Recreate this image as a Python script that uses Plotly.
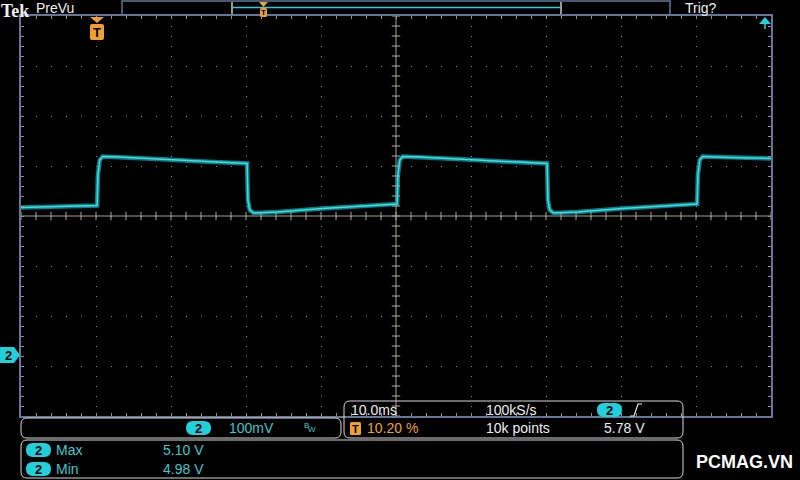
import plotly.graph_objects as go
import numpy as np

# channel 2 trace (time in ms from trigger, volts)
time_ms = [-10.2, -5.0, -0.05, 0.05, 0.3, 0.7, 3.0, 8.0, 14.0, 19.95,
           20.05, 20.3, 20.8, 24.0, 30.0, 36.0, 39.95,
           40.05, 40.3, 40.7, 43.0, 48.0, 54.0, 59.95,
           60.05, 60.3, 60.8, 64.0, 70.0, 76.0, 79.95,
           80.05, 80.3, 80.7, 84.0, 89.8]
volts = [4.995, 4.997, 4.999, 5.060, 5.090, 5.097, 5.096, 5.092, 5.087, 5.083,
         5.010, 4.990, 4.984, 4.986, 4.993, 4.998, 5.002,
         5.060, 5.090, 5.097, 5.096, 5.092, 5.087, 5.083,
         5.010, 4.990, 4.984, 4.986, 4.993, 4.998, 5.002,
         5.060, 5.090, 5.097, 5.095, 5.093]

# readouts
scale_txt = "100mV"
timebase_txt = "10.0ms"
rate_txt = "100kS/s"
trig_pos_txt = "10.20 %"
points_txt = "10k points"
trig_level_txt = "5.78 V"
meas_names = ["Max", "Min"]
meas_values = ["5.10 V", "4.98 V"]

# screen geometry: 10 x 8 divisions, 10 ms/div, 100 mV/div, trigger at 10.20 %
X0, X1 = -10.2, 89.8
Y0, Y1 = 4.578, 5.378
XC, YC = 39.8, 4.978

CYAN = "#22d0dc"
CYAN_TXT = "#3cc8d0"
ORANGE = "#f0a030"
WHITE = "#eeeeee"
FRAME = "#62779a"


def px(x):
    return (x - 21) / 750


def py(y):
    return (416 - y) / 400


def rrect(x0, y0, x1, y1, r):
    # rounded rect path in paper units, input in screen pixels
    pts = [
        f"M {px(x0 + r)},{py(y0)}",
        f"L {px(x1 - r)},{py(y0)}",
        f"Q {px(x1)},{py(y0)} {px(x1)},{py(y0 + r)}",
        f"L {px(x1)},{py(y1 - r)}",
        f"Q {px(x1)},{py(y1)} {px(x1 - r)},{py(y1)}",
        f"L {px(x0 + r)},{py(y1)}",
        f"Q {px(x0)},{py(y1)} {px(x0)},{py(y1 - r)}",
        f"L {px(x0)},{py(y0 + r)}",
        f"Q {px(x0)},{py(y0)} {px(x0 + r)},{py(y0)}",
        "Z",
    ]
    return " ".join(pts)


def poly(points):
    s = " ".join(f"L {px(x)},{py(y)}" for x, y in points[1:])
    return f"M {px(points[0][0])},{py(points[0][1])} {s} Z"


fig = go.Figure()

# waveform: dim band + bright core to mimic the noisy trace
fig.add_trace(go.Scatter(x=time_ms, y=volts, mode="lines", hoverinfo="skip",
                         line=dict(color="rgba(14,140,150,0.9)", width=4.5)))
fig.add_trace(go.Scatter(x=time_ms, y=volts, mode="lines", hoverinfo="skip",
                         line=dict(color="#3ae0e4", width=1.5)))

# tick marks on the centre crosshair
tx = np.arange(X0, X1 + 0.01, 2)
ty = np.arange(Y0, Y1 + 0.001, 0.02)
fig.add_trace(go.Scatter(x=tx, y=[YC] * len(tx), mode="markers", hoverinfo="skip",
                         marker=dict(symbol="line-ns", size=6, line=dict(color="#a8a8a0", width=1))))
fig.add_trace(go.Scatter(x=[XC] * len(ty), y=ty, mode="markers", hoverinfo="skip",
                         marker=dict(symbol="line-ew", size=6, line=dict(color="#a8a8a0", width=1))))

shapes = []
# centre crosshair
shapes.append(dict(type="line", xref="x", yref="y", x0=X0, x1=X1, y0=YC, y1=YC,
                   line=dict(color="#a89f8c", width=1), layer="below"))
shapes.append(dict(type="line", xref="x", yref="y", x0=XC, x1=XC, y0=Y0, y1=Y1,
                   line=dict(color="#a89f8c", width=1), layer="below"))

# top bar: record view
shapes.append(dict(type="rect", xref="paper", yref="paper", x0=px(122), x1=px(670),
                   y0=py(15), y1=py(1), line=dict(color=FRAME, width=1.5)))
shapes.append(dict(type="line", xref="paper", yref="paper", x0=px(232), x1=px(561),
                   y0=py(7.5), y1=py(7.5), line=dict(color=CYAN, width=1.5)))
for bx in (232, 561):
    shapes.append(dict(type="line", xref="paper", yref="paper", x0=px(bx), x1=px(bx),
                       y0=py(2), y1=py(14), line=dict(color="#9a9a8a", width=2)))
shapes.append(dict(type="path", xref="paper", yref="paper",
                   path=poly([(259, 2), (268, 2), (263.5, 7)]), fillcolor=ORANGE, line_width=0))
shapes.append(dict(type="path", xref="paper", yref="paper",
                   path=rrect(260, 8, 267, 17, 1.5), fillcolor=ORANGE, line_width=0))

# trigger position marker
shapes.append(dict(type="path", xref="paper", yref="paper",
                   path=poly([(90, 17), (104, 17), (97, 23)]), fillcolor=ORANGE, line_width=0))
shapes.append(dict(type="path", xref="paper", yref="paper",
                   path=rrect(90, 24, 104, 40, 2), fillcolor=ORANGE, line_width=0))

# trigger level arrow (off screen above)
shapes.append(dict(type="path", xref="paper", yref="paper",
                   path=poly([(759, 24), (771, 24), (765, 17)]), fillcolor=CYAN, line_width=0))
shapes.append(dict(type="line", xref="paper", yref="paper", x0=px(765), x1=px(765),
                   y0=py(24), y1=py(29), line=dict(color=CYAN, width=1.5)))

# channel 2 ground marker
shapes.append(dict(type="path", xref="paper", yref="paper",
                   path=poly([(0, 347), (14, 347), (20, 355), (14, 363), (0, 363)]),
                   fillcolor=CYAN, line_width=0))

# readout panels
for (a, b, c, d) in [(21, 418, 341, 438), (344, 401, 683, 438), (21, 440, 683, 478)]:
    shapes.append(dict(type="path", xref="paper", yref="paper", path=rrect(a, b, c, d, 6),
                       line=dict(color="#d8d8d8", width=1)))

# channel pills
pills = [(186, 421, 211, 435), (597, 403, 622, 417), (26, 443, 51, 457), (26, 462, 51, 476)]
for (a, b, c, d) in pills:
    shapes.append(dict(type="path", xref="paper", yref="paper", path=rrect(a, b, c, d, 7),
                       fillcolor=CYAN, line_width=0))

# T icon in timebase panel
shapes.append(dict(type="path", xref="paper", yref="paper", path=rrect(350, 422, 361, 435, 1.5),
                   fillcolor=ORANGE, line_width=0))

# rising edge symbol
shapes.append(dict(type="path", xref="paper", yref="paper",
                   path=f"M {px(630)},{py(416)} L {px(634)},{py(416)} L {px(638)},{py(404)} L {px(642)},{py(404)}",
                   line=dict(color=WHITE, width=1.2)))

ann = []


def text(x, y, s, color=WHITE, size=14, family="Liberation Sans", anchor="left",
         bold=False, vanchor="middle"):
    if bold:
        s = f"<b>{s}</b>"
    ann.append(dict(x=px(x), y=py(y), xref="paper", yref="paper", text=s, showarrow=False,
                    xanchor=anchor, yanchor=vanchor, borderpad=0,
                    font=dict(color=color, size=size, family=family)))


text(0, 0, "Tek", size=18, family="Liberation Serif", bold=True, vanchor="top")
text(35, 8, "PreVu", size=14)
text(684, 8, "Trig?", size=14)
text(97, 32.5, "T", color="black", size=13, anchor="center", bold=True)
text(263.5, 13, "T", color="black", size=8, anchor="center", bold=True)
text(8, 355.5, "2", color="black", size=13, anchor="center", bold=True)

# panel 1
text(198.5, 428.5, "2", color="black", size=13, anchor="center", bold=True)
text(228, 428, scale_txt, color=CYAN_TXT)
text(303, 425, "B", color=CYAN_TXT, size=8)
text(307, 430, "W", color=CYAN_TXT, size=8)

# panel 2
text(350, 410, timebase_txt)
text(485, 410, rate_txt)
text(609.5, 410.5, "2", color="black", size=13, anchor="center", bold=True)
text(355.5, 429, "T", color="black", size=11, anchor="center", bold=True)
text(366, 428, trig_pos_txt, color=ORANGE)
text(485, 428, points_txt)
text(603, 428, trig_level_txt)

# panel 3
for i, (nm, val) in enumerate(zip(meas_names, meas_values)):
    yy = 450 + 19 * i
    text(38.5, yy + 0.5, "2", color="black", size=13, anchor="center", bold=True)
    text(55, yy, nm, color=CYAN_TXT)
    text(162, yy, val, color=CYAN_TXT)

text(695, 462, "PCMAG.VN", size=18, bold=True, color="white")

fig.update_layout(
    width=800, height=480,
    margin=dict(l=21, r=29, t=16, b=64),
    paper_bgcolor="black", plot_bgcolor="black",
    showlegend=False,
    shapes=shapes,
    annotations=ann,
    xaxis=dict(range=[X0, X1], showticklabels=False, zeroline=False,
               showgrid=True, tick0=-0.2, dtick=10, gridcolor="#8c8c8c", gridwidth=1,
               griddash="1px,9px",
               showline=True, linecolor=FRAME, linewidth=1.5, mirror="ticks",
               ticks="inside", ticklen=3, tickcolor="#909090",
               minor=dict(tick0=-0.2, dtick=2, ticks="inside", ticklen=3,
                          tickcolor="#909090", showgrid=False)),
    yaxis=dict(range=[Y0, Y1], showticklabels=False, zeroline=False,
               showgrid=True, tick0=Y0, dtick=0.1, gridcolor="#8c8c8c", gridwidth=1,
               griddash="1px,14px",
               showline=True, linecolor=FRAME, linewidth=1.5, mirror="ticks",
               ticks="inside", ticklen=3, tickcolor="#909090",
               minor=dict(tick0=Y0, dtick=0.02, ticks="inside", ticklen=3,
                          tickcolor="#909090", showgrid=False)),
)

# the page's default 8px body margin would push the 800x480 figure off screen
fig.write_html("out.html", config={"displayModeBar": False},
               post_script="document.body.style.margin='0';document.body.style.overflow='hidden';")
